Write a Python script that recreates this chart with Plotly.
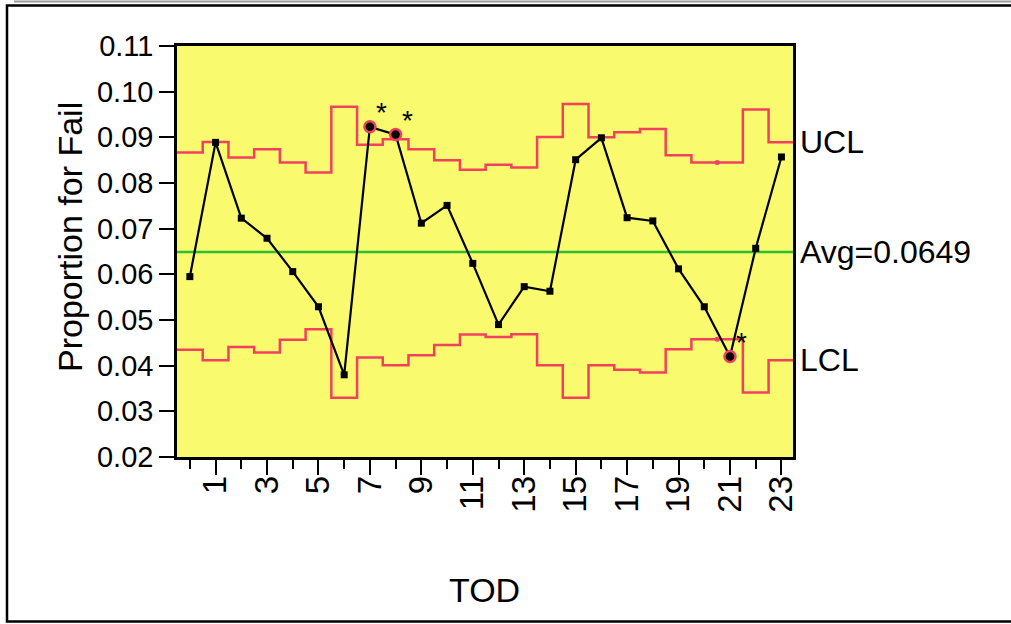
import plotly.graph_objects as go

# ---------------- data ----------------
tod = list(range(24))
proportion = [0.0595, 0.0889, 0.0723, 0.0679, 0.0606, 0.0529, 0.0380, 0.0923,
              0.0906, 0.0712, 0.0751, 0.0624, 0.0490, 0.0573, 0.0563, 0.0851,
              0.0899, 0.0724, 0.0717, 0.0612, 0.0529, 0.0420, 0.0657, 0.0857]
ucl = [0.0867, 0.0890, 0.0856, 0.0874, 0.0845, 0.0823, 0.0967, 0.0884,
       0.0896, 0.0874, 0.0850, 0.0829, 0.0840, 0.0834, 0.0901, 0.0973,
       0.0900, 0.0911, 0.0918, 0.0861, 0.0845, 0.0845, 0.0961, 0.0889]
lcl = [0.0435, 0.0412, 0.0441, 0.0429, 0.0457, 0.0480, 0.0330, 0.0418,
       0.0401, 0.0423, 0.0445, 0.0468, 0.0463, 0.0469, 0.0401, 0.0330,
       0.0401, 0.0391, 0.0385, 0.0436, 0.0458, 0.0458, 0.0341, 0.0412]
avg = 0.0649
avg_label = "Avg=0.0649"
x_tick_vals = [1, 3, 5, 7, 9, 11, 13, 15, 17, 19, 21, 23]
y_tick_vals = [0.02, 0.03, 0.04, 0.05, 0.06, 0.07, 0.08, 0.09, 0.10, 0.11]
y_tick_text = ["0.02", "0.03", "0.04", "0.05", "0.06", "0.07", "0.08", "0.09", "0.10", "0.11"]
x_title = "TOD"
y_title = "Proportion for Fail"

# ---------------- layout geometry (pixels) ----------------
W, H = 1011, 624
L, R, T, B = 177, 793, 46, 457

def px_x(p):
    return (p - L) / (R - L)

def px_y(p):
    return (B - p) / (B - T)

FONT = "Liberation Sans, Arial, sans-serif"
RED = "#F2415E"
GREEN = "#2EC02E"
YELLOW = "#FAFA6E"

# step outlines for limits
step_x = [i - 0.5 for i in tod] + [tod[-1] + 0.5]
ucl_y = ucl + [ucl[-1]]
lcl_y = lcl + [lcl[-1]]

out_idx = [i for i in tod if proportion[i] > ucl[i] or proportion[i] < lcl[i]]
in_idx = [i for i in tod if i not in out_idx]

fig = go.Figure()

fig.add_trace(go.Scatter(x=step_x, y=ucl_y, mode="lines", line_shape="hv",
                         line=dict(color=RED, width=2.5), hoverinfo="skip"))
fig.add_trace(go.Scatter(x=step_x, y=lcl_y, mode="lines", line_shape="hv",
                         line=dict(color=RED, width=2.5), hoverinfo="skip"))
# small dots where consecutive limits are equal
eq = [i for i in range(len(tod) - 1) if ucl[i] == ucl[i + 1]]
fig.add_trace(go.Scatter(x=[i + 0.5 for i in eq] * 2,
                         y=[ucl[i] for i in eq] + [lcl[i] for i in eq],
                         mode="markers", marker=dict(color=RED, size=5),
                         hoverinfo="skip"))
fig.add_trace(go.Scatter(x=[-0.5, 23.5], y=[avg, avg], mode="lines",
                         line=dict(color=GREEN, width=2.5), hoverinfo="skip"))

fig.add_trace(go.Scatter(x=tod, y=proportion, mode="lines",
                         line=dict(color="black", width=2.2)))
fig.add_trace(go.Scatter(x=in_idx, y=[proportion[i] for i in in_idx], mode="markers",
                         marker=dict(symbol="square", color="black", size=7)))
fig.add_trace(go.Scatter(x=out_idx, y=[proportion[i] for i in out_idx], mode="markers",
                         marker=dict(symbol="circle", color="black", size=11,
                                     line=dict(color=RED, width=2.5))))
fig.add_trace(go.Scatter(x=out_idx, y=[proportion[i] for i in out_idx], mode="markers",
                         marker=dict(symbol="circle", color="black", size=6)))

annotations = []
for i in out_idx:
    annotations.append(dict(x=i, y=proportion[i], xref="x", yref="y", text="*",
                            showarrow=False, xshift=12, yshift=14,
                            font=dict(family=FONT, size=28, color="black")))

# right-side labels
for text, yv in [("UCL", ucl[-1]), (avg_label, avg), ("LCL", lcl[-1])]:
    annotations.append(dict(x=1, y=yv, xref="paper", yref="y", text=text,
                            showarrow=False, xanchor="left", yanchor="middle",
                            xshift=5, font=dict(family=FONT, size=32, color="black")))

annotations.append(dict(x=px_x(70), y=px_y(237), xref="paper", yref="paper",
                        text=y_title, textangle=-90, showarrow=False,
                        xanchor="center", yanchor="middle",
                        font=dict(family=FONT, size=34, color="black")))
annotations.append(dict(x=px_x(484), y=px_y(590), xref="paper", yref="paper",
                        text=x_title, showarrow=False,
                        xanchor="center", yanchor="middle",
                        font=dict(family=FONT, size=34, color="black")))

shapes = [
    dict(type="rect", xref="paper", yref="paper",
         x0=px_x(7), x1=px_x(1030), y0=px_y(5.5), y1=px_y(621.5),
         line=dict(color="black", width=2.5), layer="below"),
    dict(type="line", xref="paper", yref="paper",
         x0=px_x(14), x1=px_x(1030), y0=px_y(1.5), y1=px_y(1.5),
         line=dict(color="#9a9a9a", width=2)),
]

fig.update_layout(
    width=W, height=H, autosize=False,
    margin=dict(l=L, r=W - R, t=T, b=H - B),
    paper_bgcolor="white", plot_bgcolor=YELLOW,
    showlegend=False,
    annotations=annotations, shapes=shapes,
    font=dict(family=FONT, color="black"),
    xaxis=dict(range=[-0.5, 23.45], tickmode="array", tickvals=x_tick_vals,
               ticktext=[str(v) for v in x_tick_vals], tickangle=-90,
               ticks="outside", ticklen=15, tickwidth=2, tickcolor="black",
               ticklabelstandoff=-12,
               minor=dict(dtick=1, tick0=0, ticks="outside", ticklen=9,
                          tickwidth=2, tickcolor="black", showgrid=False),
               showgrid=False, zeroline=False,
               showline=True, linecolor="black", linewidth=2.5, mirror=True,
               tickfont=dict(family=FONT, size=33, color="black")),
    yaxis=dict(range=[0.02, 0.11], tickmode="array", tickvals=y_tick_vals,
               ticktext=y_tick_text,
               ticks="outside", ticklen=15, tickwidth=2, tickcolor="black",
               showgrid=False, zeroline=False,
               showline=True, linecolor="black", linewidth=2.5, mirror=True,
               tickfont=dict(family=FONT, size=29, color="black")),
)

fig.write_html("out.html", config={"displayModeBar": False},
               post_script="document.body.style.margin='0';document.body.style.overflow='hidden';")
